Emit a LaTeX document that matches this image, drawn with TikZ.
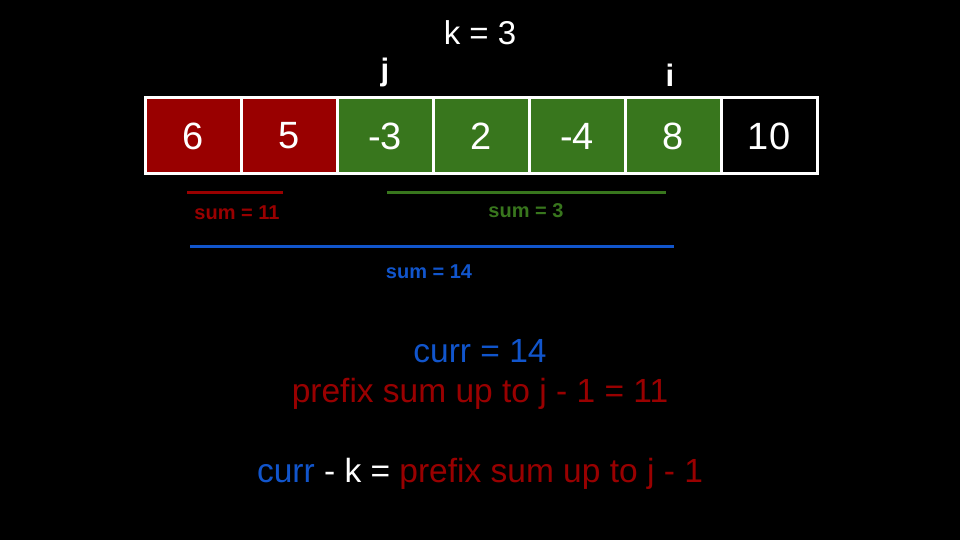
\documentclass[tikz,border=0pt]{standalone}
\usepackage{fontspec}
\setmainfont{Liberation Sans}
\definecolor{cred}{HTML}{990000}
\definecolor{cgreen}{HTML}{38761D}
\definecolor{cblue}{HTML}{1155CC}
\begin{document}
\begin{tikzpicture}[x=1pt,y=-1pt,
  cell/.style={draw=white,line width=3pt,minimum width=96pt,minimum height=76pt,inner sep=0pt,text=white,font=\fontsize{38}{40}\selectfont},
  idx/.style={text=white,font=\bfseries\fontsize{31}{33}\selectfont,inner sep=0pt},
  sumlbl/.style={font=\bfseries\fontsize{20}{22}\selectfont,inner sep=0pt,anchor=base},
  big/.style={font=\fontsize{33.5}{36}\selectfont,inner sep=0pt,anchor=base},
  rng/.style={line width=3pt}]
\fill[black] (0,0) rectangle (960,540);
\useasboundingbox (0,0) rectangle (960,540);
\node[text=white,font=\fontsize{33}{35}\selectfont,inner sep=0pt] (k) at (480,33) {k = 3};
\node[cell,fill=cred]   (c1) at (193,136) {6};
\node[cell,fill=cred]   (c2) at (289,136) {5};
\node[cell,fill=cgreen] (c3) at (385,136) {-3};
\node[cell,fill=cgreen] (c4) at (481,136) {2};
\node[cell,fill=cgreen] (c5) at (577,136) {-4};
\node[cell,fill=cgreen] (c6) at (673,136) {8};
\node[cell,fill=black]  (c7) at (769,136) {10};
\node[idx] (j) at (385,72) {j};
\node[idx] (i) at (670,75) {i};
\coordinate (r1) at (187,192); \coordinate (r2) at (283,192);
\coordinate (g1) at (387,192); \coordinate (g2) at (666,192);
\coordinate (b1) at (190,246); \coordinate (b2) at (674,246);
\draw[rng,cred] (r1) -- (r2);
\draw[rng,cgreen] (g1) -- (g2);
\draw[rng,cblue] (b1) -- (b2);
\node[sumlbl,text=cred] (s11) at (237,219) {sum = 11};
\node[sumlbl,text=cgreen] (s3) at (526,217) {sum = 3};
\node[sumlbl,text=cblue] (s14) at (429,278) {sum = 14};
\node[big,text=cblue] (curr) at (480,362) {curr = 14};
\node[big,text=cred] (pref) at (480,402) {prefix sum up to j - 1 = 11};
\node[big] (eq) at (480,482) {{\color{cblue}curr} {\color{white}- k =} {\color{cred}prefix sum up to j - 1}};
\end{tikzpicture}
\end{document}
